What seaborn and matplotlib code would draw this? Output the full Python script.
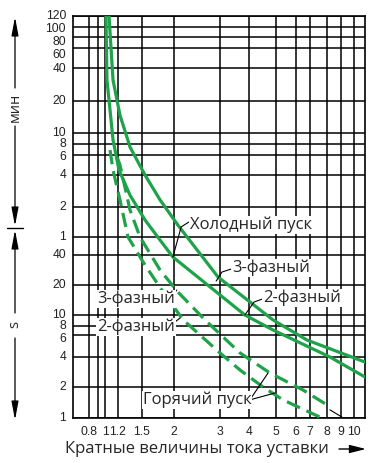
import numpy as np
import pandas as pd
import matplotlib
matplotlib.use("Agg")
import matplotlib.pyplot as plt
import seaborn as sns
from matplotlib.ticker import FixedLocator, NullLocator, FixedFormatter, NullFormatter

# ---------------- data ----------------
cold3_x = [1.058, 1.119, 1.222, 1.342, 1.541, 1.764, 2.07, 2.95, 4.88, 6.77, 11.5]
cold3_t = [7200, 1865, 885, 443, 240, 140, 79, 24, 9.04, 5.47, 3.56]
cold2_x = [1.014, 1.028, 1.073, 1.119, 1.211, 1.342, 1.541, 1.764, 1.98, 3.84, 4.88, 8.2, 11.5]
cold2_t = [7200, 1865, 988, 521, 266, 155, 89, 56, 38.2, 10, 7.04, 4, 2.52]
hot3_x = [1.19, 1.222, 1.342, 1.472, 1.764, 2.07, 2.63, 3.66, 4.76, 6.48, 8.0]
hot3_t = [340, 294, 112, 60, 28.3, 17.0, 9.04, 4.31, 2.76, 1.87, 1.34]
hot2_x = [1.073, 1.119, 1.222, 1.317, 1.541, 1.846, 2.17, 3.0, 3.66, 4.49, 5.33, 7.57]
hot2_t = [410, 266, 140, 60, 31.7, 15.9, 9.04, 4.31, 2.96, 2.0, 1.5, 1.02]
tail_x = [8.2, 9.07]
tail_t = [1.2, 1.02]

x_ticks = [0.8, 0.9, 1, 1.2, 1.5, 2, 3, 4, 5, 6, 7, 8, 9, 10]
x_labels = ["0.8", "", "1", "1.2", "1.5", "2", "3", "4", "5", "6", "7", "8", "9", "10"]
y_ticks = [7200, 6000, 4800, 3600, 2400, 1200, 600, 480, 360, 240, 120, 60,
           40, 20, 10, 8, 6, 4, 2, 1]
y_labels = ["120", "100", "80", "60", "40", "20", "10", "8", "6", "4", "2", "1",
            "40", "20", "10", "8", "6", "4", "2", "1"]

# ---------------- axis calibration (the chart's own, slightly irregular, log grid) --------
W, H = 371, 463
X0, X1, Y0, Y1 = 73, 365, 16, 418          # plot frame in pixels
x_cal_v = [0.744, 0.8, 0.9, 1, 1.2, 1.5, 2, 3, 4, 5, 6, 7, 8, 9, 10, 11.5]
x_cal_p = [73, 89, 98, 105, 118, 142, 174, 220, 249, 276, 296, 310, 327, 341, 354, 365]
y_cal_v = [1, 2, 4, 6, 8, 10, 20, 40, 60, 120, 240, 360, 480, 600, 1200, 2400,
           3600, 4800, 6000, 7200]
y_cal_p = [418, 387, 357, 335, 326, 315, 285, 255, 237, 207, 175, 155, 144, 133, 101, 68,
           48, 37, 27, 16]
# label nudges (pixels downward) for the crowded tick labels, as drawn in the reference
y_nudge = [0, 2, 5, 7, 1, 0, 0, 0, 2, 0, 0, 0, 0, 0, 0, 0, 4, 0, 0, 0]


def make_scale(vals, pix, flip):
    lv = np.log10(np.asarray(vals, float))
    pv = np.asarray(pix, float)
    if flip:
        pv = -pv
    s0 = (pv[1] - pv[0]) / (lv[1] - lv[0])
    s1 = (pv[-1] - pv[-2]) / (lv[-1] - lv[-2])

    def fwd(v):
        l = np.log10(np.maximum(np.asarray(v, float), 1e-12))
        out = np.interp(l, lv, pv)
        out = np.where(l < lv[0], pv[0] + (l - lv[0]) * s0, out)
        out = np.where(l > lv[-1], pv[-1] + (l - lv[-1]) * s1, out)
        return out

    def inv(p):
        p = np.asarray(p, float)
        out = np.interp(p, pv, lv)
        out = np.where(p < pv[0], lv[0] + (p - pv[0]) / s0, out)
        out = np.where(p > pv[-1], lv[-1] + (p - pv[-1]) / s1, out)
        return 10 ** out

    return fwd, inv


# ---------------- figure ----------------
sns.set_style("white")
plt.rcParams['font.family'] = ['Liberation Sans', 'DejaVu Sans']
fig = plt.figure(figsize=(W / 100, H / 100), dpi=100)
ax = fig.add_axes([X0 / W, 1 - Y1 / H, (X1 - X0) / W, (Y1 - Y0) / H])
ax.set_xscale("function", functions=make_scale(x_cal_v, x_cal_p, False))
ax.set_yscale("function", functions=make_scale(y_cal_v, y_cal_p, True))

GREEN = "#1fa34a"
LW = 2.3


def df(xs, ts):
    return pd.DataFrame({"x": xs, "t": ts})


for xs, ts in [(cold3_x, cold3_t), (cold2_x, cold2_t)]:
    sns.lineplot(data=df(xs, ts), x="x", y="t", ax=ax, color=GREEN, lw=LW,
                 sort=False, estimator=None, zorder=3)
for xs, ts in [(hot3_x, hot3_t), (hot2_x, hot2_t)]:
    sns.lineplot(data=df(xs, ts), x="x", y="t", ax=ax, color=GREEN, lw=LW,
                 sort=False, estimator=None, zorder=3)
    ax.lines[-1].set_dashes((4.5, 2.2))
sns.lineplot(data=df(tail_x, tail_t), x="x", y="t", ax=ax, color="black", lw=0.8,
             sort=False, estimator=None, zorder=3)

ax.set_xlim(0.744, 11.5)
ax.set_ylim(1, 7200)
ax.xaxis.set_major_locator(FixedLocator(x_ticks))
ax.xaxis.set_major_formatter(FixedFormatter(x_labels))
ax.xaxis.set_minor_locator(NullLocator())
ax.yaxis.set_major_locator(FixedLocator(y_ticks))
ax.yaxis.set_major_formatter(NullFormatter())
ax.yaxis.set_minor_locator(NullLocator())
ax.set_xlabel("")
ax.set_ylabel("")
ax.grid(True, which="major", color="black", lw=1.1, zorder=1)
ax.set_axisbelow(True)
for s in ax.spines.values():
    s.set_color("black")
    s.set_linewidth(1.2)
ax.tick_params(axis="y", direction="out", length=4, width=1.1, color="black")
ax.tick_params(axis="x", length=0, pad=6, labelsize=8.7, labelcolor="#222222")

# y tick labels (minutes on top, seconds below)
for t, lab, dy in zip(y_ticks, y_labels, y_nudge):
    ax.annotate(lab, xy=(0, t), xycoords=("axes fraction", "data"),
                xytext=(-7, -dy), textcoords="offset pixels", ha="right", va="center",
                fontsize=8.7, color="#222222", annotation_clip=False)

# ---------------- labels ----------------
LF = ['Open Sans', 'DejaVu Sans']
FS = 12
box = dict(facecolor="white", edgecolor="none", pad=0.5)
ax.text(2.30, 79, "Холодный пуск", family=LF, fontsize=FS, ha="left", va="center",
        bbox=box, zorder=5)
ax.text(3.38, 29.6, "3-фазный", family=LF, fontsize=FS, ha="left", va="center",
        bbox=box, zorder=5)
ax.text(4.49, 14.8, "2-фазный", family=LF, fontsize=FS, ha="left", va="center",
        bbox=box, zorder=5)
ax.text(0.888, 14.4, "3-фазный", family=LF, fontsize=FS, ha="left", va="center",
        bbox=box, zorder=5)
ax.text(0.888, 7.75, "2-фазный", family=LF, fontsize=FS, ha="left", va="center",
        bbox=box, zorder=5)
ax.text(1.51, 1.5, "Горячий пуск", family=LF, fontsize=FS, ha="left", va="center",
        bbox=box, zorder=5)


# pointer lines
def seg(xs, ts):
    ax.plot(xs, ts, color="black", lw=0.8, zorder=4)


seg([2.28, 2.13, 1.98], [84.9, 75.6, 38.2])
seg([3.35, 3.06, 2.90], [28.9, 27.0, 21.9])
seg([4.45, 4.17, 3.84], [14.4, 13.5, 10.0])
seg([1.949, 2.05], [15.2, 17.8])
seg([1.949, 2.11], [8.16, 9.41])
seg([4.03, 4.68], [1.5, 2.76])
seg([4.03, 4.96], [1.5, 1.75])


# ---------------- left unit arrows ----------------
def fp(x, y):
    return (x, H - y)


arr = dict(arrowstyle="-|>,head_length=1.6,head_width=0.3", color="black", lw=0.9,
           mutation_scale=7, shrinkA=0, shrinkB=0)
for tip, tail in [((15, 17), (15, 88)), ((15, 226), (15, 126)),
                  ((15, 230), (15, 313)), ((15, 420), (15, 338))]:
    ax.annotate("", xy=fp(*tip), xytext=fp(*tail), xycoords="figure pixels",
                textcoords="figure pixels", arrowprops=arr, annotation_clip=False)
fig.add_artist(plt.Line2D([7 / W, 23 / W], [1 - 228 / H, 1 - 228 / H], color="black", lw=1.0))
fig.text(15 / W, 1 - 107 / H, "мин", family=LF, fontsize=10.5, rotation=90,
         ha="center", va="center")
fig.text(15 / W, 1 - 325 / H, "s", family=LF, fontsize=10.5, rotation=90,
         ha="center", va="center")

# ---------------- x label ----------------
fig.text(65 / W, 1 - 449 / H, "Кратные величины тока уставки", family=LF,
         fontsize=FS, ha="left", va="center")
ax.annotate("", xy=fp(366, 449), xytext=fp(339, 449), xycoords="figure pixels",
            textcoords="figure pixels",
            arrowprops=dict(arrowstyle="-|>,head_length=1.4,head_width=0.35",
                            color="black", lw=1.0, mutation_scale=7, shrinkA=0, shrinkB=0),
            annotation_clip=False)

fig.savefig("out.png", dpi=100)
